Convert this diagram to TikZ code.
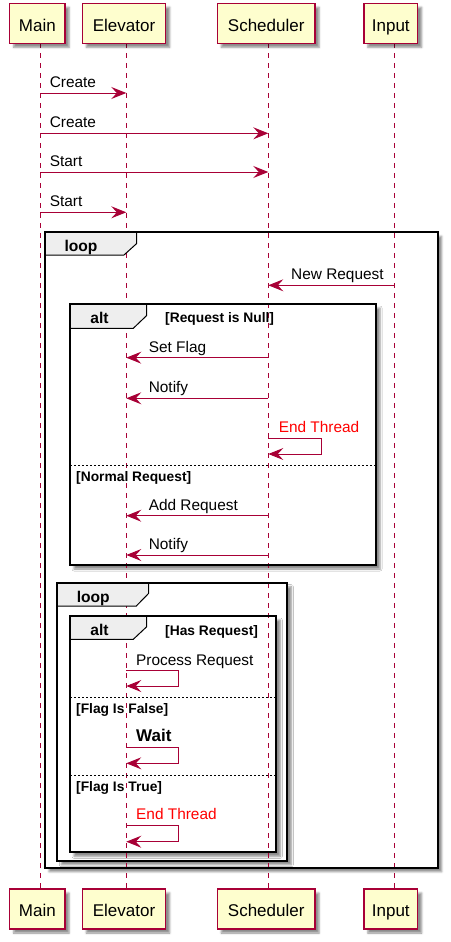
\documentclass[tikz,border=0pt]{standalone}
\usepackage{fontspec}
\setmainfont{Liberation Sans}
\usetikzlibrary{arrows.meta, calc, shadows.blur}
\definecolor{seq}{HTML}{A80036}
\definecolor{part}{HTML}{FEFECE}
\definecolor{tabgrey}{HTML}{EEEEEE}
\definecolor{endred}{HTML}{FF0000}
\tikzset{
  >={Stealth[length=15pt, width=12pt, inset=5.5pt]},
  %
  softshadow/.style={blur shadow={shadow xshift=4pt, shadow yshift=-4pt,
                     shadow opacity=45, shadow blur radius=2pt}},
  actor/.style={draw=seq, line width=1.4pt, fill=part, softshadow,
                minimum height=40pt, inner sep=0pt, text height=15.5pt, text depth=0pt,
                font=\fontsize{17}{20}\selectfont},
  lifeline/.style={draw=seq, line width=1pt, dash pattern=on 5pt off 5pt},
  %
  msg/.style={draw=seq, line width=1pt, ->},
  lbl/.style={font=\fontsize{15.4}{18}\selectfont, inner sep=0pt, anchor=base west},
  %
  framebg/.style={fill=white, softshadow},
  frameline/.style={draw=black, line width=2.2pt},
  tab/.style={draw=black, line width=1pt, fill=tabgrey},
  sep/.style={draw=black, line width=1pt, dash pattern=on 2pt off 2pt},
  grouplbl/.style={font=\bfseries\fontsize{15.6}{18}\selectfont, inner sep=0pt, anchor=base},
  guard/.style={font=\bfseries\fontsize{13.8}{16}\selectfont, inner sep=0pt, anchor=base west},
}

\begin{document}
\begin{tikzpicture}[x=1pt, y=-1pt]
\useasboundingbox (0,0) rectangle (450,942);

% ------------------------------------------------------------ frame fills
\path[framebg] (45,232.3) rectangle (437.7,867.7);
\path[framebg] (70,304) rectangle (376,565);
\path[framebg] (57.3,582.7) rectangle (287.3,860.7);
\path[framebg] (70,616) rectangle (276.3,852.3);

% -------------------------------------------------------------- lifelines
\coordinate (lMain) at (40.3,0);
\coordinate (lElev) at (126.3,0);
\coordinate (lSch)  at (268.3,0);
\coordinate (lIn)   at (394.3,0);

\foreach \n/\x in {main/37.4, elev/124, sch/266.2, in/390.8} {
  \coordinate (\n-top) at (\x,43.3);
  \coordinate (\n-bot) at (\x,888.3);
}
\draw[lifeline] (lMain |- main-top) -- (lMain |- main-bot);
\draw[lifeline] (lElev |- elev-top) -- (lElev |- elev-bot);
\draw[lifeline] (lSch |- sch-top) -- (lSch |- sch-bot);
\draw[lifeline] (lIn |- in-top) -- (lIn |- in-bot);

% ---------------------------------------------------------- frames, tabs
\draw[tab] (45,232.3) -- (136.7,232.3) -- (136.7,243.5) -- (124,255) -- (45,255);
\draw[frameline] (45,232.3) rectangle (437.7,867.7);
\node[grouplbl] (loop1) at (81,251) {loop};

\draw[tab] (70,304) -- (146.7,304) -- (146.7,315.5) -- (133.3,328.3) -- (70,328.3);
\draw[frameline] (70,304) rectangle (376,565);
\node[grouplbl] (alt1) at (99.5,323) {alt};
\node[guard] (g1) at (165,322.5) {[Request is Null]};
\draw[sep] (70,465.7) -- (376,465.7);
\node[guard] (g2) at (76,481) {[Normal Request]};

\draw[tab] (57.3,582.7) -- (148.7,582.7) -- (148.7,593.3) -- (136.3,606) -- (57.3,606);
\draw[frameline] (57.3,582.7) rectangle (287.3,860.7);
\node[grouplbl] (loop2) at (93.3,602) {loop};

\draw[tab] (70,616) -- (146.7,616) -- (146.7,626.7) -- (133.3,639.3) -- (70,639.3);
\draw[frameline] (70,616) rectangle (276.3,852.3);
\node[grouplbl] (alt2) at (99.5,635) {alt};
\node[guard] (g3) at (165,635) {[Has Request]};
\draw[sep] (70,697.3) -- (276.3,697.3);
\node[guard] (g4) at (76,713.3) {[Flag Is False]};
\draw[sep] (70,775) -- (276.3,775);
\node[guard] (g5) at (76,791) {[Flag Is True]};

% --------------------------------------------------------------- messages
\draw[msg] (lMain |- 0,93) -- node[lbl, pos=0, xshift=9pt, yshift=5.7pt] {Create} (lElev |- 0,93);
\draw[msg] (lMain |- 0,133.3) -- node[lbl, pos=0, xshift=9pt, yshift=5.7pt] {Create} (lSch |- 0,133.3);
\draw[msg] (lMain |- 0,172) -- node[lbl, pos=0, xshift=9pt, yshift=5.7pt] {Start} (lSch |- 0,172);
\draw[msg] (lMain |- 0,212.3) -- node[lbl, pos=0, xshift=9pt, yshift=5.7pt] {Start} (lElev |- 0,212.3);

\draw[msg] (lIn |- 0,285.3) -- node[lbl, pos=1, xshift=22.4pt, yshift=5.5pt] {New Request} (lSch |- 0,285.3);

\draw[msg] (lSch |- 0,357.7) -- node[lbl, pos=1, xshift=22pt, yshift=5.5pt] {Set Flag} (lElev |- 0,357.7);
\draw[msg] (lSch |- 0,398.3) -- node[lbl, pos=1, xshift=22pt, yshift=5.5pt] {Notify} (lElev |- 0,398.3);
\draw[msg] (lSch |- 0,438.3) node[lbl, xshift=10pt, yshift=6pt, text=endred] {End Thread}
  -| ++(53.4,15.7) -- (lSch |- 0,454);
\draw[msg] (lSch |- 0,515.7) -- node[lbl, pos=1, xshift=22pt, yshift=5.5pt] {Add Request} (lElev |- 0,515.7);
\draw[msg] (lSch |- 0,555) -- node[lbl, pos=1, xshift=22pt, yshift=5.5pt] {Notify} (lElev |- 0,555);

\draw[msg] (lElev |- 0,670) node[lbl, xshift=9.4pt, yshift=5pt] {Process Request}
  -| ++(52.4,16) -- (lElev |- 0,686);
\draw[msg] (lElev |- 0,747.3) node[lbl, xshift=9.4pt, yshift=5.6pt,
  font=\bfseries\fontsize{17}{20}\selectfont] {Wait}
  -| ++(52.4,16) -- (lElev |- 0,763.3);
\draw[msg] (lElev |- 0,825.7) node[lbl, xshift=9.4pt, yshift=6.4pt, text=endred] {End Thread}
  -| ++(52.4,16) -- (lElev |- 0,841.7);

% ----------------------------------------------------------- participants
\foreach \n/\x/\w/\t in {main/37.4/55.3/Main, elev/124/83.4/Elevator,
                         sch/266.2/97.7/Scheduler, in/390.8/53.7/Input} {
  \node[actor, minimum width=\w pt] (\n-T) at (\x,23.3) {\t};
  \node[actor, minimum width=\w pt] (\n-B) at (\x,909) {\t};
}

\end{tikzpicture}
\end{document}
